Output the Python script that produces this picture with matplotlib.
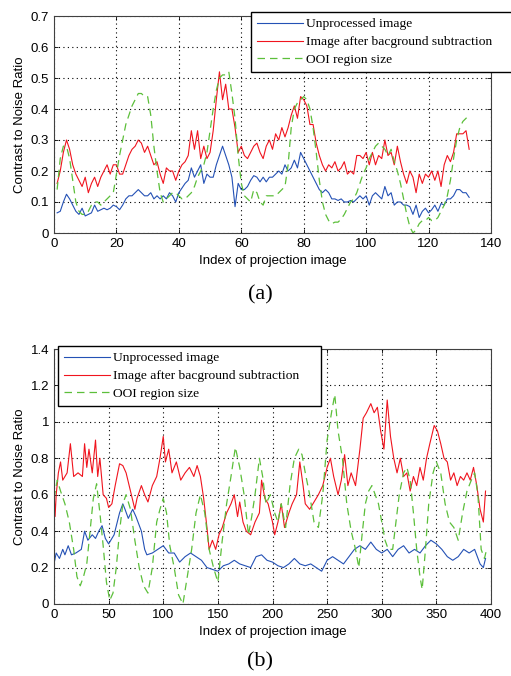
import numpy as np
import matplotlib
matplotlib.use("Agg")
import matplotlib.pyplot as plt

# ---- panel (a): projection index 1..133 ----
idx_a = np.arange(1, 134)

unproc_a = [0.065, 0.07, 0.10, 0.125, 0.11, 0.09, 0.07, 0.06, 0.08, 0.055,
            0.06, 0.065, 0.09, 0.07, 0.075, 0.08, 0.075, 0.08, 0.09, 0.085,
            0.075, 0.09, 0.11, 0.12, 0.12, 0.13, 0.14, 0.13, 0.12, 0.12,
            0.13, 0.11, 0.12, 0.11, 0.12, 0.11, 0.13, 0.12, 0.10, 0.13,
            0.145, 0.16, 0.17, 0.21, 0.18, 0.20, 0.22, 0.16, 0.19, 0.18,
            0.18, 0.22, 0.25, 0.28, 0.25, 0.22, 0.18, 0.085, 0.16, 0.14,
            0.14, 0.15, 0.17, 0.185, 0.18, 0.165, 0.18, 0.165, 0.18, 0.18,
            0.19, 0.20, 0.19, 0.22, 0.20, 0.21, 0.235, 0.21, 0.26, 0.24,
            0.22, 0.20, 0.18, 0.16, 0.14, 0.13, 0.14, 0.13, 0.11, 0.11,
            0.105, 0.11, 0.10, 0.10, 0.105, 0.10, 0.11, 0.12, 0.11, 0.12,
            0.09, 0.12, 0.13, 0.12, 0.11, 0.15, 0.12, 0.13, 0.09, 0.10,
            0.10, 0.09, 0.09, 0.085, 0.06, 0.09, 0.05, 0.07, 0.08, 0.065,
            0.075, 0.09, 0.07, 0.095, 0.09, 0.11, 0.11, 0.12, 0.14, 0.14,
            0.13, 0.13, 0.115]

bgsub_a = [0.16, 0.20, 0.26, 0.30, 0.27, 0.22, 0.19, 0.17, 0.15, 0.18,
           0.13, 0.16, 0.18, 0.15, 0.18, 0.20, 0.22, 0.19, 0.22, 0.22,
           0.19, 0.19, 0.22, 0.25, 0.27, 0.28, 0.30, 0.29, 0.26, 0.28,
           0.25, 0.22, 0.23, 0.19, 0.16, 0.21, 0.20, 0.20, 0.17, 0.20,
           0.22, 0.23, 0.25, 0.33, 0.27, 0.33, 0.24, 0.28, 0.24, 0.26,
           0.33, 0.43, 0.52, 0.43, 0.48, 0.40, 0.40, 0.34, 0.26, 0.28,
           0.25, 0.24, 0.26, 0.28, 0.29, 0.26, 0.24, 0.28, 0.30, 0.27,
           0.32, 0.30, 0.34, 0.31, 0.34, 0.38, 0.41, 0.37, 0.44, 0.43,
           0.41, 0.35, 0.35, 0.29, 0.25, 0.22, 0.20, 0.22, 0.21, 0.23,
           0.20, 0.21, 0.23, 0.19, 0.20, 0.19, 0.25, 0.25, 0.24, 0.26,
           0.22, 0.26, 0.22, 0.25, 0.24, 0.30, 0.25, 0.26, 0.22, 0.28,
           0.23, 0.19, 0.16, 0.20, 0.18, 0.13, 0.19, 0.16, 0.19, 0.18,
           0.20, 0.17, 0.20, 0.15, 0.22, 0.25, 0.23, 0.26, 0.32, 0.32,
           0.32, 0.33, 0.27]

ooi_a = [0.14, 0.24, 0.28, 0.28, 0.24, 0.17, 0.10, 0.07, 0.06, 0.06,
         0.07, 0.09, 0.10, 0.10, 0.09, 0.10, 0.11, 0.12, 0.13, 0.19,
         0.25, 0.30, 0.35, 0.38, 0.41, 0.43, 0.45, 0.45, 0.44, 0.44,
         0.38, 0.28, 0.20, 0.13, 0.10, 0.11, 0.12, 0.13, 0.13, 0.12,
         0.11, 0.11, 0.12, 0.13, 0.15, 0.18, 0.20, 0.22, 0.26, 0.33,
         0.40, 0.46, 0.50, 0.51, 0.51, 0.52, 0.45, 0.37, 0.25, 0.16,
         0.12, 0.11, 0.10, 0.14, 0.13, 0.10, 0.09, 0.12, 0.12, 0.12,
         0.12, 0.13, 0.14, 0.15, 0.22, 0.34, 0.40, 0.42, 0.43, 0.44,
         0.43, 0.40, 0.34, 0.26, 0.17, 0.10, 0.06, 0.04, 0.03, 0.035,
         0.035, 0.045, 0.06, 0.08, 0.10, 0.11, 0.13, 0.16, 0.19, 0.21,
         0.24, 0.26, 0.28, 0.29, 0.28, 0.27, 0.25, 0.27, 0.23, 0.20,
         0.16, 0.11, 0.06, 0.02, 0.0, 0.01, 0.03, 0.04, 0.04, 0.05,
         0.04, 0.04, 0.05, 0.07, 0.09, 0.12, 0.17, 0.24, 0.30, 0.34,
         0.36, 0.37, 0.38]

# ---- panel (b): projection index 0..396 ----
x_unproc_b = [0, 2, 5, 8, 10, 13, 16, 20, 25, 28, 31, 35, 38, 41, 44, 47, 50,
              55, 60, 63, 65, 68, 72, 75, 80, 83, 85, 90, 95, 100, 105, 110,
              115, 120, 125, 130, 135, 140, 145, 150, 155, 160, 165, 170, 175,
              180, 185, 190, 195, 200, 205, 210, 215, 220, 225, 230, 235, 240,
              245, 250, 255, 260, 265, 270, 275, 280, 285, 290, 295, 300, 305,
              310, 315, 320, 325, 330, 335, 340, 345, 350, 355, 360, 365, 370,
              375, 380, 385, 390, 393, 395]
unproc_b = [0.22, 0.28, 0.25, 0.30, 0.27, 0.32, 0.27, 0.28, 0.30, 0.40, 0.35,
            0.38, 0.36, 0.40, 0.43, 0.36, 0.33, 0.38, 0.50, 0.55, 0.52, 0.47,
            0.52, 0.48, 0.40, 0.30, 0.27, 0.28, 0.30, 0.32, 0.28, 0.28, 0.23,
            0.26, 0.28, 0.26, 0.24, 0.20, 0.19, 0.18, 0.21, 0.22, 0.24, 0.22,
            0.21, 0.20, 0.26, 0.27, 0.24, 0.23, 0.21, 0.20, 0.22, 0.25, 0.22,
            0.21, 0.22, 0.20, 0.18, 0.24, 0.26, 0.24, 0.22, 0.26, 0.30, 0.32,
            0.30, 0.34, 0.30, 0.28, 0.30, 0.26, 0.30, 0.32, 0.28, 0.30, 0.28,
            0.32, 0.35, 0.33, 0.30, 0.26, 0.24, 0.26, 0.30, 0.28, 0.30, 0.22,
            0.20, 0.25]

x_bgsub_b = [0, 1, 2, 4, 6, 8, 12, 15, 18, 22, 26, 28, 30, 32, 35, 38, 40, 42,
             45, 48, 50, 53, 56, 60, 63, 66, 70, 74, 76, 80, 83, 86, 90, 94, 97,
             100, 102, 105, 108, 112, 116, 120, 124, 128, 131, 134, 137, 140,
             142, 145, 148, 151, 154, 158, 162, 165, 168, 170, 173, 176, 180,
             184, 188, 190, 193, 196, 200, 202, 205, 208, 211, 215, 218, 222,
             225, 228, 230, 234, 238, 242, 246, 250, 253, 256, 260, 263, 266,
             269, 272, 276, 280, 283, 286, 290, 293, 296, 299, 302, 305, 308,
             311, 314, 317, 320, 323, 326, 329, 332, 335, 338, 341, 344, 348,
             351, 354, 357, 360, 363, 366, 369, 372, 375, 378, 381, 384, 387,
             390, 393, 395]
bgsub_b = [0.62, 0.48, 0.60, 0.72, 0.78, 0.68, 0.72, 0.88, 0.70, 0.72, 0.70,
           0.88, 0.75, 0.85, 0.72, 0.90, 0.70, 0.80, 0.60, 0.58, 0.53, 0.55,
           0.65, 0.77, 0.76, 0.72, 0.62, 0.52, 0.58, 0.65, 0.60, 0.56, 0.65,
           0.70, 0.80, 0.92, 0.78, 0.85, 0.72, 0.78, 0.68, 0.72, 0.75, 0.70,
           0.76, 0.70, 0.58, 0.42, 0.30, 0.35, 0.30, 0.38, 0.42, 0.50, 0.55,
           0.60, 0.48, 0.56, 0.45, 0.40, 0.38, 0.45, 0.50, 0.68, 0.58, 0.55,
           0.45, 0.38, 0.45, 0.55, 0.42, 0.50, 0.55, 0.60, 0.78, 0.65, 0.55,
           0.52, 0.56, 0.60, 0.65, 0.75, 0.80, 0.70, 0.60, 0.68, 0.82, 0.65,
           0.72, 0.65, 0.85, 1.02, 1.05, 1.10, 1.05, 1.08, 0.95, 0.85, 1.12,
           0.92, 0.80, 0.72, 0.80, 0.70, 0.72, 0.62, 0.70, 0.65, 0.75, 0.68,
           0.80, 0.88, 0.98, 0.95, 0.88, 0.80, 0.78, 0.68, 0.72, 0.65, 0.70,
           0.68, 0.72, 0.68, 0.75, 0.65, 0.52, 0.45, 0.62]

x_ooi_b = [0, 3, 6, 10, 14, 18, 21, 24, 27, 30, 33, 36, 39, 42, 45, 48, 51, 54,
           57, 60, 63, 66, 70, 74, 78, 82, 86, 90, 94, 97, 100, 103, 106, 110,
           114, 118, 122, 126, 130, 134, 138, 142, 146, 150, 154, 158, 162,
           166, 170, 174, 178, 181, 184, 188, 191, 194, 198, 202, 205, 208,
           212, 216, 220, 224, 227, 230, 234, 238, 242, 246, 250, 254, 257,
           260, 264, 268, 272, 276, 279, 282, 285, 288, 291, 294, 297, 300,
           303, 306, 310, 313, 316, 320, 323, 326, 329, 332, 335, 337, 340,
           343, 347, 350, 354, 358, 362, 366, 370, 374, 378, 382, 385, 388,
           391, 394, 396]
ooi_b = [0.58, 0.68, 0.62, 0.55, 0.45, 0.30, 0.15, 0.10, 0.15, 0.22, 0.40,
         0.58, 0.66, 0.50, 0.32, 0.12, 0.02, 0.06, 0.20, 0.40, 0.55, 0.60,
         0.52, 0.35, 0.20, 0.10, 0.06, 0.20, 0.45, 0.52, 0.58, 0.50, 0.32,
         0.20, 0.05, 0.0, 0.15, 0.30, 0.50, 0.60, 0.50, 0.30, 0.20, 0.12,
         0.35, 0.55, 0.70, 0.86, 0.75, 0.60, 0.38, 0.48, 0.60, 0.80, 0.70,
         0.55, 0.60, 0.50, 0.45, 0.55, 0.42, 0.65, 0.80, 0.85, 0.82, 0.72,
         0.60, 0.45, 0.42, 0.60, 0.90, 1.05, 1.15, 0.95, 0.80, 0.55, 0.40,
         0.30, 0.20, 0.38, 0.55, 0.62, 0.65, 0.60, 0.55, 0.45, 0.35, 0.30,
         0.30, 0.45, 0.60, 0.72, 0.75, 0.68, 0.50, 0.30, 0.15, 0.08, 0.30,
         0.55, 0.72, 0.78, 0.72, 0.55, 0.45, 0.42, 0.35, 0.50, 0.62, 0.68,
         0.72, 0.60, 0.30, 0.25, 0.30]

labels = ["Unprocessed image", "Image after bacground subtraction",
          "OOI region size"]
c_blue, c_red, c_green = "#2451b5", "#f0141e", "#5cbf3a"

plt.rcParams["font.family"] = "Liberation Sans"

fig = plt.figure(figsize=(5.11, 6.76), dpi=100)
ax_a = fig.add_axes([54/511, 1-233/676, 437/511, 217/676])
ax_b = fig.add_axes([54/511, 1-604/676, 437/511, 255/676])


def style(ax, xmax, ymax, ystep):
    ax.set_xlim(0, xmax)
    ax.set_ylim(0, ymax)
    ax.set_yticks(np.arange(0, ymax + 1e-9, ystep))
    ax.grid(True, color="black", linestyle=(0, (1, 3)), linewidth=0.8)
    ax.tick_params(direction="in", top=True, right=True, labelsize=9.5,
                   length=3, width=0.6)
    for s in ax.spines.values():
        s.set_linewidth(0.8)
        s.set_color("#404040")
    ax.set_xlabel("Index of projection image", fontsize=9.5, labelpad=4)
    ax.set_ylabel("Contrast to Noise Ratio", fontsize=9.5, labelpad=3)


l1, = ax_a.plot(idx_a, unproc_a, color=c_blue, lw=0.8)
l2, = ax_a.plot(idx_a, bgsub_a, color=c_red, lw=0.8)
l3, = ax_a.plot(idx_a, ooi_a, color=c_green, lw=0.9, ls=(0, (6, 4)))
style(ax_a, 140, 0.7, 0.1)
ax_a.set_yticklabels(["0", "0.1", "0.2", "0.3", "0.4", "0.5", "0.6", "0.7"])

ax_b.plot(x_unproc_b, unproc_b, color=c_blue, lw=0.8)
ax_b.plot(x_bgsub_b, bgsub_b, color=c_red, lw=0.8)
ax_b.plot(x_ooi_b, ooi_b, color=c_green, lw=0.9, ls=(0, (6, 4)))
style(ax_b, 400, 1.4, 0.2)
ax_b.set_yticklabels(["0", "0.2", "0.4", "0.6", "0.8", "1", "1.2", "1.4"])

leg_kw = dict(loc="upper left", bbox_transform=fig.transFigure,
              prop={"family": "Liberation Serif", "size": 9.7},
              frameon=True, fancybox=False, handlelength=3.4,
              labelspacing=0.4, borderpad=0.45, handletextpad=0.2,
              borderaxespad=0, mode="expand")
leg_a = fig.legend([l1, l2, l3], labels,
                   bbox_to_anchor=(251/511, 1-72/676, 262/511, 60/676),
                   **leg_kw)
leg_b = fig.legend([l1, l2, l3], labels,
                   bbox_to_anchor=(58/511, 1-406/676, 263/511, 60/676),
                   **leg_kw)
for leg in (leg_a, leg_b):
    leg.get_frame().set_edgecolor("black")
    leg.get_frame().set_linewidth(1.0)
    leg.get_frame().set_alpha(1)

fig.text(260/511, 1-295/676, "(a)", ha="center", va="center",
         family="Liberation Serif", fontsize=16)
fig.text(260/511, 1-662/676, "(b)", ha="center", va="center",
         family="Liberation Serif", fontsize=16)

fig.savefig("out.png", dpi=100)
